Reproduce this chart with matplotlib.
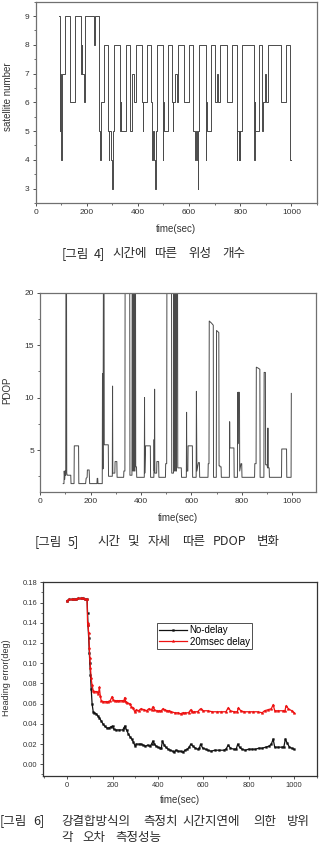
import matplotlib
matplotlib.use("Agg")
import matplotlib.pyplot as plt
from matplotlib.ticker import MultipleLocator

# ---------------- data ----------------
sat_time = [91, 94, 97, 100, 102, 105, 117, 134, 153, 179,
            181, 183, 188, 195, 228, 231, 248, 250, 252, 254,
            268, 283, 286, 288, 296, 299, 301, 306, 329, 334,
            336, 352, 368, 378, 384, 391, 417, 419, 421, 434,
            452, 454, 457, 459, 465, 467, 469, 474, 497, 499,
            501, 518, 534, 536, 538, 546, 551, 556, 579, 601,
            617, 623, 626, 632, 634, 636, 638, 666, 668, 670,
            686, 703, 711, 714, 721, 748, 766, 786, 789, 794,
            797, 799, 801, 805, 855, 857, 859, 873, 887, 890,
            898, 902, 909, 958, 978, 994, 1000]
sat_count = [9, 5, 7, 4, 6, 7, 9, 6, 9, 7,
             8, 7, 6, 9, 8, 9, 6, 5, 4, 6,
             8, 5, 4, 5, 4, 3, 5, 8, 5, 6,
             5, 8, 5, 7, 6, 8, 6, 5, 6, 8,
             6, 5, 4, 5, 4, 3, 5, 8, 4, 6,
             5, 8, 6, 5, 6, 7, 6, 8, 6, 8,
             5, 4, 5, 4, 3, 5, 8, 4, 6, 5,
             8, 6, 7, 6, 8, 6, 8, 4, 5, 4,
             5, 4, 5, 8, 4, 6, 5, 8, 5, 6,
             7, 6, 8, 6, 8, 4, 4]

pdop_time = [91, 94, 95, 97, 99, 101, 102, 104, 105, 107,
             121, 122, 134, 135, 152, 153, 180, 182, 186, 187,
             194, 196, 225, 226, 228, 229, 246, 247, 249, 251,
             253, 254, 270, 271, 286, 287, 288, 296, 297, 304,
             305, 331, 332, 336, 337, 355, 356, 364, 365, 367,
             368, 370, 371, 373, 374, 376, 377, 378, 379, 382,
             383, 413, 414, 415, 418, 437, 438, 451, 452, 453,
             454, 455, 462, 463, 470, 471, 497, 498, 502, 503,
             521, 522, 529, 530, 532, 533, 535, 536, 538, 539,
             541, 542, 545, 546, 560, 561, 580, 581, 582, 586,
             587, 604, 605, 619, 620, 621, 622, 628, 632, 633,
             666, 667, 670, 671, 680, 687, 688, 699, 700, 709,
             710, 713, 714, 718, 719, 751, 752, 753, 769, 770,
             783, 784, 785, 786, 791, 792, 797, 800, 801, 851,
             852, 857, 858, 866, 872, 873, 888, 889, 894, 895,
             900, 903, 904, 905, 909, 910, 958, 959, 978, 979,
             996, 997]
pdop_value = [1.8, 1.8, 3.0, 2.2, 3.0, 2.6, 25, 25, 2.8, 2.6,
              2.6, 1.8, 1.8, 5.4, 5.4, 1.8, 1.8, 2.3, 2.4, 3.1,
              3.1, 1.8, 1.8, 2.3, 2.3, 1.8, 1.8, 12.3, 3.2, 25,
              25, 5.5, 5.5, 2.5, 2.5, 11.1, 2.8, 2.8, 3.9, 3.9,
              2.4, 2.4, 3.0, 3.0, 25, 25, 2.6, 2.6, 25, 25,
              3.0, 3.0, 25, 25, 3.0, 3.0, 25, 25, 3.4, 3.4,
              2.4, 2.4, 10.0, 2.8, 5.4, 5.4, 2.4, 2.4, 6.0, 3.0,
              10.8, 2.8, 2.8, 3.9, 3.9, 2.4, 2.4, 3.7, 3.7, 25,
              25, 2.8, 2.8, 25, 25, 3.0, 3.0, 25, 25, 3.0,
              3.0, 25, 25, 3.3, 3.3, 2.4, 2.4, 8.6, 3.0, 3.0,
              5.4, 5.4, 2.4, 2.4, 10.6, 5.8, 3.0, 3.8, 3.8, 2.4,
              2.4, 3.7, 3.7, 17.3, 17.1, 16.9, 2.4, 2.4, 16.4, 16.2,
              3.5, 3.5, 3.4, 3.4, 2.4, 2.4, 7.7, 5.2, 5.2, 2.4,
              2.4, 10.5, 5.6, 10.5, 10.5, 3.0, 3.7, 3.7, 2.4, 2.4,
              3.7, 3.7, 12.9, 12.8, 12.7, 2.4, 2.4, 12.4, 12.4, 3.6,
              3.6, 3.3, 7.1, 3.3, 3.3, 2.4, 2.4, 5.1, 5.1, 2.4,
              2.4, 10.4]

err_red_time = [0, 10, 20, 30, 40, 50, 60, 70, 80, 88,
                90, 92, 95, 98, 100, 103, 106, 110, 115, 120,
                130, 138, 142, 146, 150, 160, 170, 180, 190, 198,
                202, 210, 220, 230, 240, 250, 254, 258, 265, 275,
                283, 290, 298, 305, 315, 325, 340, 350, 360, 372,
                378, 385, 395, 405, 415, 422, 430, 440, 450, 460,
                475, 490, 500, 510, 520, 535, 545, 550, 560, 575,
                588, 600, 620, 640, 660, 680, 700, 710, 720, 735,
                750, 755, 765, 780, 800, 820, 840, 860, 870, 885,
                900, 908, 915, 930, 950, 960, 965, 975, 990, 1000]
err_red = [0.162, 0.163, 0.163, 0.163, 0.163, 0.164, 0.164, 0.164, 0.163, 0.163,
           0.140, 0.138, 0.130, 0.115, 0.105, 0.095, 0.085, 0.078, 0.073, 0.072,
           0.072, 0.070, 0.076, 0.068, 0.063, 0.062, 0.062, 0.062, 0.063, 0.067,
           0.064, 0.063, 0.063, 0.063, 0.063, 0.063, 0.066, 0.062, 0.061, 0.060,
           0.057, 0.056, 0.052, 0.054, 0.053, 0.055, 0.054, 0.053, 0.055, 0.054,
           0.057, 0.054, 0.053, 0.053, 0.053, 0.055, 0.054, 0.053, 0.053, 0.052,
           0.051, 0.051, 0.050, 0.051, 0.051, 0.051, 0.054, 0.052, 0.052, 0.052,
           0.055, 0.053, 0.053, 0.052, 0.052, 0.052, 0.052, 0.056, 0.053, 0.052,
           0.052, 0.056, 0.053, 0.052, 0.052, 0.052, 0.052, 0.051, 0.053, 0.054,
           0.055, 0.059, 0.053, 0.053, 0.053, 0.053, 0.058, 0.055, 0.053, 0.051]

err_black_time = [0, 10, 20, 30, 40, 50, 60, 70, 80, 88,
                  90, 92, 95, 98, 100, 103, 106, 110, 115, 120,
                  128, 135, 142, 150, 158, 165, 175, 185, 192, 200,
                  205, 215, 230, 245, 250, 255, 262, 270, 278, 285,
                  292, 300, 305, 315, 325, 335, 345, 355, 365, 372,
                  378, 385, 392, 400, 410, 415, 420, 428, 435, 445,
                  455, 465, 472, 480, 490, 500, 510, 520, 530, 538,
                  545, 555, 565, 575, 583, 588, 598, 610, 620, 635,
                  650, 670, 690, 700, 710, 720, 735, 745, 752, 760,
                  770, 785, 800, 815, 830, 845, 860, 875, 890, 900,
                  908, 915, 930, 945, 955, 962, 970, 980, 990, 1000]
err_black = [0.162, 0.163, 0.163, 0.163, 0.163, 0.164, 0.164, 0.164, 0.163, 0.163,
             0.150, 0.138, 0.125, 0.110, 0.100, 0.088, 0.075, 0.060, 0.052, 0.051,
             0.050, 0.048, 0.046, 0.043, 0.040, 0.038, 0.036, 0.036, 0.037, 0.038,
             0.035, 0.034, 0.034, 0.034, 0.036, 0.038, 0.034, 0.030, 0.027, 0.025,
             0.022, 0.018, 0.020, 0.020, 0.020, 0.019, 0.018, 0.019, 0.018, 0.020,
             0.023, 0.020, 0.018, 0.017, 0.016, 0.016, 0.023, 0.019, 0.017, 0.015,
             0.014, 0.013, 0.012, 0.014, 0.013, 0.013, 0.012, 0.014, 0.015, 0.017,
             0.020, 0.018, 0.016, 0.015, 0.016, 0.020, 0.016, 0.015, 0.014, 0.013,
             0.014, 0.014, 0.014, 0.015, 0.019, 0.016, 0.015, 0.015, 0.020, 0.017,
             0.015, 0.014, 0.015, 0.015, 0.015, 0.016, 0.016, 0.017, 0.018, 0.020,
             0.025, 0.017, 0.017, 0.017, 0.017, 0.025, 0.021, 0.017, 0.016, 0.015]

legend_labels = ["No-delay", "20msec delay"]

# ---------------- styling ----------------
plt.rcParams['font.family'] = ['Liberation Sans', 'Noto Sans CJK KR', 'DejaVu Sans']
W, H = 332, 844
fig = plt.figure(figsize=(W / 100, H / 100), dpi=100)

def axes_px(l, t, r, b):
    return fig.add_axes([l / W, 1 - b / H, (r - l) / W, (b - t) / H])

def style(ax, spine_color='#707070'):
    for s in ax.spines.values():
        s.set_color(spine_color)
        s.set_linewidth(0.9)
    ax.tick_params(which='major', direction='out', length=2.5, width=0.6,
                   labelsize=6, colors='#333333', pad=2)
    ax.tick_params(which='minor', direction='out', length=1.4, width=0.5,
                   colors='#333333')

line_col = '#4a4a4a'

# ---- plot 1: satellite number ----
ax1 = axes_px(35.5, 1.7, 317, 203)
ax1.plot(sat_time, sat_count, drawstyle='steps-post', color=line_col, lw=0.7)
ax1.set_xlim(0, 1100)
ax1.set_ylim(2.5, 9.5)
ax1.xaxis.set_major_locator(MultipleLocator(200))
ax1.xaxis.set_minor_locator(MultipleLocator(100))
ax1.yaxis.set_major_locator(MultipleLocator(1))
ax1.yaxis.set_minor_locator(MultipleLocator(0.5))
style(ax1)
ax1.set_xlabel("time(sec)", fontsize=7, color='#333333')
ax1.set_ylabel("satellite number", fontsize=7, color='#333333')
ax1.xaxis.set_label_coords(0.5, -0.105)
ax1.yaxis.set_label_coords(-0.08, 0.53)

# ---- plot 2: PDOP ----
ax2 = axes_px(40.3, 292.7, 316, 492)
ax2.plot(pdop_time, pdop_value, color=line_col, lw=0.7)
ax2.set_xlim(0, 1095)
ax2.set_ylim(1, 20)
ax2.xaxis.set_major_locator(MultipleLocator(200))
ax2.xaxis.set_minor_locator(MultipleLocator(100))
ax2.yaxis.set_major_locator(MultipleLocator(5))
ax2.yaxis.set_minor_locator(MultipleLocator(2.5))
style(ax2)
ax2.set_xlabel("time(sec)", fontsize=7, color='#333333')
ax2.set_ylabel("PDOP", fontsize=7, color='#333333')
ax2.xaxis.set_label_coords(0.5, -0.105)
ax2.yaxis.set_label_coords(-0.1, 0.51)

# ---- plot 3: heading error ----
ax3 = axes_px(43.3, 582.3, 316.7, 776)
ax3.plot(err_black_time, err_black, color='#111111', lw=0.9, marker='s',
         ms=1.3, mew=0.3, label=legend_labels[0])
ax3.plot(err_red_time, err_red, color='#ee1111', lw=0.9, marker='*',
         ms=2.2, mew=0.3, label=legend_labels[1])
ax3.set_xlim(-105, 1100)
ax3.set_ylim(-0.0115, 0.18)
ax3.xaxis.set_major_locator(MultipleLocator(200))
ax3.xaxis.set_minor_locator(MultipleLocator(100))
ax3.yaxis.set_major_locator(MultipleLocator(0.02))
ax3.yaxis.set_minor_locator(MultipleLocator(0.01))
ax3.yaxis.set_major_formatter(matplotlib.ticker.FormatStrFormatter('%.2f'))
style(ax3, spine_color='#333333')
ax3.tick_params(labelsize=5.4)
ax3.set_xlabel("time(sec)", fontsize=7, color='#333333')
ax3.set_ylabel("Heading error(deg)", fontsize=6.5, color='#333333')
ax3.xaxis.set_label_coords(0.5, -0.098)
ax3.yaxis.set_label_coords(-0.118, 0.51)
leg = ax3.legend(loc='upper left', bbox_to_anchor=(0.416, 0.791), fontsize=7,
                 frameon=True, fancybox=False, edgecolor='#222222',
                 handlelength=2.8, handletextpad=0.3, borderpad=0.25,
                 labelspacing=0.15, borderaxespad=0)
leg.get_frame().set_linewidth(0.7)

# ---------------- captions ----------------
cap_font = dict(family=['Noto Sans CJK KR', 'DejaVu Sans'], fontsize=9.0,
                color='#2a2a2a', va='center', ha='left')

def caption(words, y):
    for x, w in words:
        fig.text(x / W, 1 - y / H, w, **cap_font)

caption([(62, "[그림"), (94, "4]"), (112, "시간에"), (154, "따른"),
         (188, "위성"), (222, "개수")], 254)
caption([(35, "[그림"), (68, "5]"), (97, "시간"), (128, "및"), (148, "자세"),
         (182, "따른"), (213, "PDOP"), (257, "변화")], 541.7)
caption([(0, "[그림"), (33, "6]"), (61, "강결합방식의"), (143, "측정치"),
         (182, "시간지연에"), (253, "의한"), (287, "방위")], 821)
caption([(61, "각"), (82, "오차"), (115, "측정성능")], 837)

fig.savefig("out.png", dpi=100)
